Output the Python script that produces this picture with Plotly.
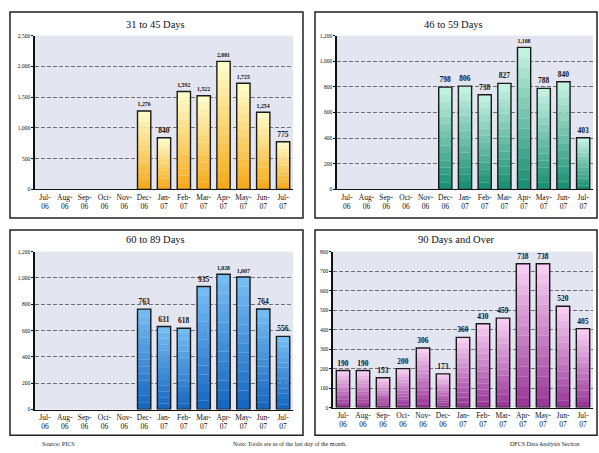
import plotly.graph_objects as go

months = ["Jul-06", "Aug-06", "Sep-06", "Oct-06", "Nov-06", "Dec-06", "Jan-07",
          "Feb-07", "Mar-07", "Apr-07", "May-07", "Jun-07", "Jul-07"]
tick_labels = ["Jul-<br>06", "Aug-<br>06", "Sep-<br>06", "Oct-<br>06", "Nov-<br>06",
               "Dec-<br>06", "Jan-<br>07", "Feb-<br>07", "Mar-<br>07", "Apr-<br>07",
               "May-<br>07", "Jun-<br>07", "Jul-<br>07"]

days_31_45 = [None, None, None, None, None, 1276, 840, 1592, 1522, 2081, 1725, 1254, 775]
days_46_59 = [None, None, None, None, None, 798, 806, 738, 827, 1108, 788, 840, 403]
days_60_89 = [None, None, None, None, None, 763, 631, 618, 935, 1028, 1007, 764, 556]
days_90_over = [190, 190, 153, 200, 306, 173, 360, 430, 459, 738, 738, 520, 405]

titles = ["31 to 45 Days", "46 to 59 Days", "60 to 89 Days", "90 Days and Over"]
y_max = [2500, 1200, 1200, 800]
y_step = [500, 200, 200, 100]

W, H = 599, 453
SERIF = "Liberation Serif"

# (bottom colour, top colour)
grads = [((245, 168, 20), (255, 255, 205)),
         ((22, 140, 112), (200, 245, 228)),
         ((18, 100, 190), (120, 190, 245)),
         ((150, 50, 150), (250, 210, 245))]

# pixel boxes: plot area (x0, x1, y0, y1) and frame (x0, x1, y0, y1)
plot_px = [(35, 293, 33, 189), (337, 593, 33, 189), (35, 293, 252, 412), (333, 593, 252, 410)]
frame_px = [(10, 303, 9, 218), (315, 597, 9, 218), (10, 303, 230, 438), (315, 597, 230, 438)]
title_px = [(155, 22), (453, 22), (155, 240), (457, 240)]

series = [days_31_45, days_46_59, days_60_89, days_90_over]

fig = go.Figure()
N = 14

def mix(c0, c1, t):
    return "rgb(%d,%d,%d)" % tuple(round(a + (b - a) * t) for a, b in zip(c0, c1))

for i, vals in enumerate(series):
    xa = "x" if i == 0 else f"x{i+1}"
    ya = "y" if i == 0 else f"y{i+1}"
    c0, c1 = grads[i]
    for k in range(N):
        fig.add_trace(go.Bar(
            x=months,
            y=[None if v is None else v / N for v in vals],
            base=[None if v is None else v * k / N for v in vals],
            marker=dict(color=mix(c0, c1, (k + 0.5) / N), line=dict(width=0)),
            offsetgroup="g", xaxis=xa, yaxis=ya, hoverinfo="skip", showlegend=False,
        ))
    fig.add_trace(go.Bar(
        x=months, y=vals, base=[None if v is None else 0 for v in vals],
        marker=dict(color="rgba(0,0,0,0)", line=dict(color="#1a1a1a", width=1.4)),
        text=["" if v is None else f"<b>{v:,}</b>" for v in vals],
        textposition="outside", cliponaxis=False,
        textfont=dict(family=SERIF, size=7.5, color="#111"),
        offsetgroup="g", xaxis=xa, yaxis=ya, hoverinfo="skip", showlegend=False,
    ))

layout = dict(
    width=W, height=H, margin=dict(l=0, r=0, t=0, b=0),
    paper_bgcolor="white", plot_bgcolor="#E3E5F1",
    barmode="group", bargap=0.33, showlegend=False,
    font=dict(family=SERIF, color="#111"),
)

shapes = []
annotations = []
for i in range(4):
    px0, px1, py0, py1 = plot_px[i]
    sx = "xaxis" if i == 0 else f"xaxis{i+1}"
    sy = "yaxis" if i == 0 else f"yaxis{i+1}"
    anchor_y = "y" if i == 0 else f"y{i+1}"
    anchor_x = "x" if i == 0 else f"x{i+1}"
    layout[sx] = dict(
        domain=[px0 / W, px1 / W], anchor=anchor_y,
        tickmode="array", tickvals=months, ticktext=tick_labels,
        tickfont=dict(family=SERIF, size=7.5, color="#111"),
        showline=True, linecolor="#111", linewidth=1.2, ticks="", showgrid=False,
        fixedrange=True,
    )
    layout[sy] = dict(
        domain=[1 - py1 / H, 1 - py0 / H], anchor=anchor_x,
        range=[0, y_max[i]], dtick=y_step[i], tickformat=",",
        tickfont=dict(family=SERIF, size=5.5, color="#111"),
        showline=True, linecolor="#111", linewidth=1.5, ticks="outside", ticklen=2,
        tickcolor="#111", showgrid=True, gridcolor="#707070", griddash="4px,2px", gridwidth=0.7,
        zeroline=False, fixedrange=True,
    )
    fx0, fx1, fy0, fy1 = frame_px[i]
    shapes.append(dict(type="rect", xref="paper", yref="paper",
                       x0=fx0 / W, x1=fx1 / W, y0=1 - fy1 / H, y1=1 - fy0 / H,
                       line=dict(color="#222", width=1.5), layer="below"))
    tx, ty = title_px[i]
    annotations.append(dict(text=titles[i], x=tx / W, y=1 - ty / H, xref="paper", yref="paper",
                            xanchor="center", yanchor="middle",
                            showarrow=False, font=dict(family=SERIF, size=10.5, color="#111")))

for txt, x, anchor in [("Source: PICS", 40, "left"),
                       ("Note: Totals are as of the last day of the month.", 290, "center"),
                       ("DFCS Data Analysis Section", 582, "right")]:
    annotations.append(dict(text=txt, x=x / W, y=1 - 447 / H, xref="paper", yref="paper",
                            xanchor=anchor, yanchor="middle", showarrow=False,
                            font=dict(family=SERIF, size=6, color="#222")))

layout["shapes"] = shapes
layout["annotations"] = annotations
fig.update_layout(**layout)

fig.write_html("out.html", config={"displayModeBar": False},
               post_script="document.body.style.margin='0';document.body.style.overflow='hidden';")
